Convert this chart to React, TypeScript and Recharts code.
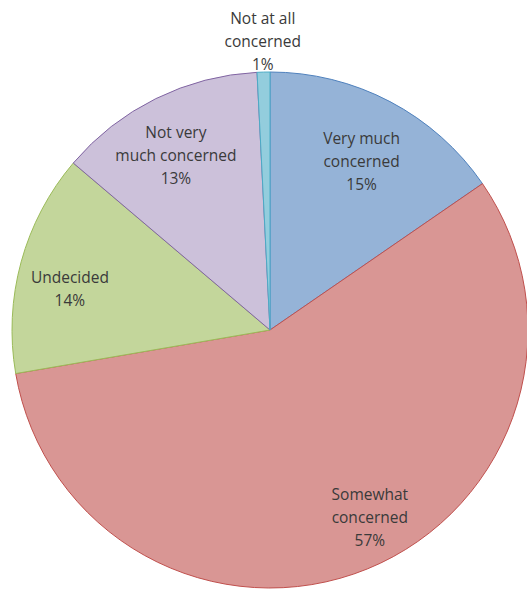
import React from "react";
import { PieChart, Pie, Cell } from "recharts";

const categories = [
  "Very much concerned",
  "Somewhat concerned",
  "Undecided",
  "Not very much concerned",
  "Not at all concerned",
];
const shares = [15.4, 56.9, 13.9, 13.0, 0.8];
const labelLines = [
  ["Very much", "concerned"],
  ["Somewhat", "concerned"],
  ["Undecided"],
  ["Not very", "much concerned"],
  ["Not at all", "concerned"],
];

const fills = ["#95B3D7", "#D99694", "#C3D69B", "#CCC1DA", "#93CDDD"];
const strokes = ["#4F81BD", "#C0504D", "#9BBB59", "#8064A2", "#4BACC6"];
const labelNudge = [
  { dx: -2, dy: 9 },
  { dx: 24, dy: 1 },
  { dx: -6, dy: 12 },
  { dx: -5, dy: 5 },
  { dx: 0, dy: 0 },
];

const data = categories.map((name, i) => ({ name, value: shares[i] }));

const RAD = Math.PI / 180;
const LINE_H = 23;

const renderLabel = (props: any) => {
  const { cx, cy, midAngle, outerRadius, index, percent } = props;
  const lines = [...labelLines[index], `${Math.round(percent * 100)}%`];
  const small = percent < 0.03;
  const r = small ? outerRadius + 31 : outerRadius * 0.78;
  const x = cx + r * Math.cos(-midAngle * RAD) + labelNudge[index].dx;
  const y = cy + r * Math.sin(-midAngle * RAD) + labelNudge[index].dy;
  const top = y - ((lines.length - 1) * LINE_H) / 2;
  return (
    <text
      x={x}
      y={top}
      textAnchor="middle"
      dominantBaseline="central"
      fill="#3a3a3a"
      fontSize={15.5}
      fontFamily="'Open Sans', Lato, sans-serif"
    >
      {lines.map((l, i) => (
        <tspan key={i} x={x} y={top + i * LINE_H} dominantBaseline="central">
          {l}
        </tspan>
      ))}
    </text>
  );
};

export default function App() {
  return (
    <div style={{ position: "absolute", left: 0, top: 0, width: 527, height: 590, background: "#fff", overflow: "hidden" }}>
      <PieChart width={527} height={590} margin={{ top: 0, right: 0, bottom: 0, left: 0 }}>
        <Pie
          data={data}
          dataKey="value"
          nameKey="name"
          cx={270}
          cy={330}
          outerRadius={258}
          startAngle={90}
          endAngle={-270}
          isAnimationActive={false}
          label={renderLabel}
          labelLine={false}
        >
          {data.map((d, i) => (
            <Cell key={d.name} fill={fills[i]} stroke={strokes[i]} strokeWidth={1} />
          ))}
        </Pie>
      </PieChart>
    </div>
  );
}
